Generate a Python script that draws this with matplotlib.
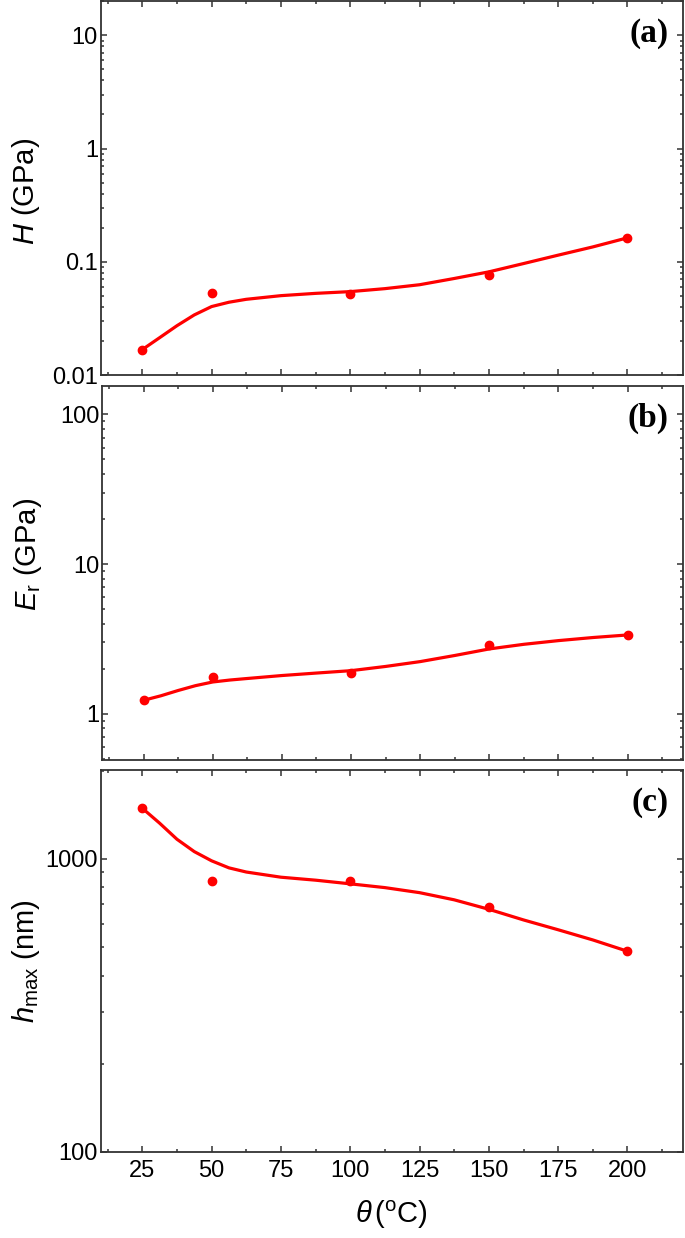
import numpy as np
import matplotlib.pyplot as plt
from matplotlib.ticker import FixedLocator, LogLocator, NullFormatter, MultipleLocator

plt.rcParams['font.family'] = ['Liberation Sans', 'DejaVu Sans']
plt.rcParams['mathtext.fontset'] = 'custom'
plt.rcParams['mathtext.rm'] = 'Liberation Sans'
plt.rcParams['mathtext.it'] = 'Liberation Sans:italic'

# measured points
temp = [25, 50, 100, 150, 200]
hardness = [0.0168, 0.0532, 0.0521, 0.0769, 0.163]
modulus = [1.23, 1.76, 1.86, 2.88, 3.36]
hmax = [1489, 843, 843, 684, 484]

# fitted curves
fit_temp = [25, 31.25, 37.5, 43.75, 50, 56.25, 62.5, 75, 87.5, 100, 112.5, 125,
            137.5, 150, 162.5, 175, 187.5, 200]
hardness_fit = [0.0168, 0.0214, 0.0273, 0.034, 0.0403, 0.044, 0.0467, 0.0503, 0.0527,
                0.0546, 0.058, 0.0628, 0.0713, 0.0816, 0.0966, 0.1146, 0.1355, 0.163]
modulus_fit = [1.23, 1.318, 1.43, 1.54, 1.63, 1.68, 1.72, 1.80, 1.87, 1.94, 2.07, 2.23,
               2.45, 2.71, 2.91, 3.08, 3.23, 3.36]
hmax_fit = [1489, 1324, 1167, 1059, 985, 932, 902, 866, 846, 822, 798, 767, 725, 673,
            619, 573, 529, 484]

xticks = [25, 50, 75, 100, 125, 150, 175, 200]
panels = [
    dict(y=hardness, fit=hardness_fit, ylim=(0.01, 20), ticks=[0.01, 0.1, 1, 10],
         labels=['0.01', '0.1', '1', '10'], ylabel=r'$H$ (GPa)', tag='(a)',
         pos=[0.147, 0.697, 0.850, 0.302], lab_y=0.49),
    dict(y=modulus, fit=modulus_fit, ylim=(0.49, 154), ticks=[1, 10, 100],
         labels=['1', '10', '100'], ylabel=r'$E_{\rm r}$ (GPa)', tag='(b)',
         pos=[0.149, 0.386, 0.848, 0.302], lab_y=0.55),
    dict(y=hmax, fit=hmax_fit, ylim=(100, 2010), ticks=[100, 1000],
         labels=['100', '1000'], ylabel=r'$h_{\rm max}$ (nm)', tag='(c)',
         pos=[0.147, 0.0695, 0.850, 0.3085], lab_y=0.5),
]

fig = plt.figure(figsize=(6.85, 12.38), dpi=100)

for i, p in enumerate(panels):
    ax = fig.add_axes(p['pos'])
    ax.plot(fit_temp, p['fit'], color='red', lw=2.3, zorder=2,
            solid_joinstyle='round')
    ax.plot(temp, p['y'], 'o', color='red', ms=6, zorder=3)
    ax.set_yscale('log')
    ax.set_xlim(10, 220)
    ax.set_ylim(*p['ylim'])
    ax.yaxis.set_major_locator(FixedLocator(p['ticks']))
    ax.set_yticklabels(p['labels'])
    ax.yaxis.set_minor_locator(LogLocator(base=10, subs=np.arange(2, 10)))
    ax.yaxis.set_minor_formatter(NullFormatter())
    ax.set_xticks(xticks)
    ax.xaxis.set_minor_locator(MultipleLocator(12.5))
    ax.tick_params(which='both', direction='in', top=True, right=True,
                   width=1.1, color='#333333', labelsize=17)
    ax.tick_params(which='major', length=4.5)
    ax.tick_params(which='minor', length=2.5)
    ax.tick_params(axis='y', pad=2)
    ax.tick_params(axis='x', pad=6)
    for s in ax.spines.values():
        s.set_linewidth(1.3)
        s.set_color('#333333')
    if i < 2:
        ax.set_xticklabels([])
    else:
        ax.set_xlabel(r'$\theta\,$($^{\rm o}$C)', fontsize=21, labelpad=12)
    ax.set_ylabel(p['ylabel'], fontsize=21)
    ax.yaxis.set_label_coords(-0.10, p['lab_y'])
    ax.text(0.975, 0.955, p['tag'], transform=ax.transAxes, ha='right', va='top',
            fontsize=24, fontweight='bold', family='Liberation Serif')

fig.savefig('out.png', dpi=100)
